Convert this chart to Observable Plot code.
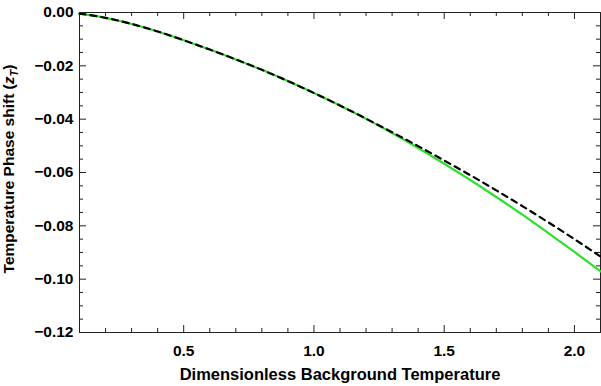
<!DOCTYPE html>
<html>
<head>
<meta charset="utf-8">
<script src="https://cdn.jsdelivr.net/npm/d3@7"></script>
<script src="https://cdn.jsdelivr.net/npm/@observablehq/plot@0.6"></script>
<style>
  html, body { margin: 0; padding: 0; background: #fff; }
</style>
</head>
<body>
<div id="chart"></div>
<script>
// Dimensionless background temperature
const temps = [0.1, 0.2, 0.3, 0.4, 0.5, 0.6, 0.7, 0.8, 0.9, 1.0, 1.1, 1.2, 1.3, 1.4, 1.5, 1.6, 1.7, 1.8, 1.9, 2.0, 2.1];
// Solid green series
const greenShift = [-0.0004, -0.0020, -0.0043, -0.0071, -0.0104, -0.0139, -0.0176, -0.0215, -0.0257, -0.0302, -0.0349, -0.0399, -0.0452, -0.0508, -0.0567, -0.0628, -0.0692, -0.0758, -0.0827, -0.0898, -0.0971];
// Dashed black series
const dashedShift = [-0.0004, -0.0020, -0.0043, -0.0071, -0.0104, -0.0139, -0.0176, -0.0215, -0.0257, -0.0302, -0.0349, -0.0398, -0.0449, -0.0501, -0.0555, -0.0610, -0.0667, -0.0726, -0.0787, -0.0850, -0.0915];
// Tick values
const xMajor = [0.5, 1.0, 1.5, 2.0];
const xMinor = [0.2, 0.3, 0.4, 0.6, 0.7, 0.8, 0.9, 1.1, 1.2, 1.3, 1.4, 1.6, 1.7, 1.8, 1.9, 2.1];
const yMajor = [0.00, -0.02, -0.04, -0.06, -0.08, -0.10, -0.12];
const yMinor = [-0.005, -0.01, -0.015, -0.025, -0.03, -0.035, -0.045, -0.05, -0.055, -0.065, -0.07, -0.075, -0.085, -0.09, -0.095, -0.105, -0.11, -0.115];
const xLabel = "Dimensionless Background Temperature";
const yLabelMain = "Temperature Phase shift (";

const green = temps.map((t, i) => ({t, v: greenShift[i]}));
const dashed = temps.map((t, i) => ({t, v: dashedShift[i]}));

const W = 601, H = 386;
const mL = 79, mR = 1, mT = 12, mB = 54;
const innerH = H - mT - mB;
const innerW = W - mL - mR;
const major = 7, minor = 4;
const tickColor = "#222";
const font = "'Liberation Sans', Arial, sans-serif";

const plot = Plot.plot({
  width: W,
  height: H,
  marginLeft: mL,
  marginRight: mR,
  marginTop: mT,
  marginBottom: mB,
  style: {fontFamily: font, fontWeight: "bold", fontSize: "15.5px", background: "#fff", color: "#000"},
  x: {domain: [0.1, 2.1]},
  y: {domain: [-0.12, 0]},
  marks: [
    Plot.frame({stroke: tickColor, strokeWidth: 1}),
    // bottom ticks
    Plot.tickX(xMajor, {x: d => d, insetTop: innerH - major, stroke: tickColor}),
    Plot.tickX(xMinor, {x: d => d, insetTop: innerH - minor, stroke: tickColor}),
    // top ticks
    Plot.tickX(xMajor, {x: d => d, insetBottom: innerH - major, stroke: tickColor}),
    Plot.tickX(xMinor, {x: d => d, insetBottom: innerH - minor, stroke: tickColor}),
    // left ticks
    Plot.tickY(yMajor, {y: d => d, insetRight: innerW - major, stroke: tickColor}),
    Plot.tickY(yMinor, {y: d => d, insetRight: innerW - minor, stroke: tickColor}),
    // right ticks
    Plot.tickY(yMajor, {y: d => d, insetLeft: innerW - major, stroke: tickColor}),
    Plot.tickY(yMinor, {y: d => d, insetLeft: innerW - minor, stroke: tickColor}),
    Plot.axisX(xMajor, {tickSize: 0, tickPadding: 12, tickFormat: d3.format(".1f"), label: null}),
    Plot.axisX({tickSize: 0, ticks: [], label: xLabel, labelAnchor: "center", labelArrow: "none", labelOffset: 47, fontSize: "16.5px"}),
    Plot.axisY(yMajor, {tickSize: 0, tickPadding: 6, tickFormat: d3.format(".2f"), label: null}),
    Plot.line(green, {x: "t", y: "v", stroke: "#2ee02e", strokeWidth: 2.2, curve: "natural"}),
    Plot.line(dashed, {x: "t", y: "v", stroke: "#000", strokeWidth: 2.2, strokeDasharray: "6,5", curve: "natural"})
  ]
});

document.getElementById("chart").appendChild(plot);

// Y-axis label with italic subscript
const svg = d3.select(plot);
const label = svg.append("text")
  .attr("transform", `translate(14, ${mT + innerH / 2 - 3}) rotate(-90)`)
  .attr("text-anchor", "middle")
  .attr("font-family", font)
  .attr("font-weight", "bold")
  .attr("font-size", "15.5px")
  .attr("fill", "#000");
label.append("tspan").text(yLabelMain);
label.append("tspan").attr("font-style", "italic").text("z");
label.append("tspan").attr("font-style", "italic").attr("font-size", "11px").attr("dy", "4").text("T");
label.append("tspan").attr("dy", "-4").text(")");
</script>
</body>
</html>
